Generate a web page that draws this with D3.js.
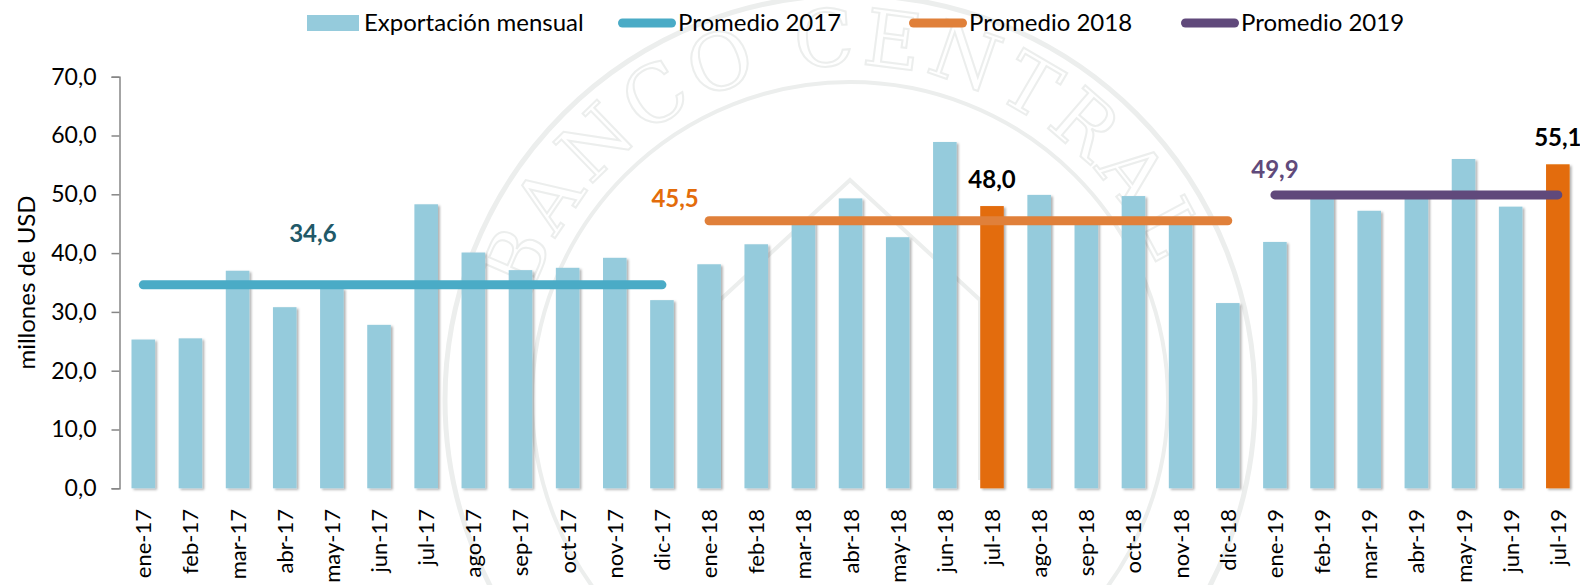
<!DOCTYPE html>
<html>
<head>
<meta charset="utf-8">
<script src="https://cdn.jsdelivr.net/npm/d3@7"></script>
<style>
  body { margin: 0; background: #fff; }
  svg { display: block; font-family: Lato, "Open Sans", sans-serif; }
</style>
</head>
<body>
<svg id="chart" width="1580" height="585"></svg>
<script>
// monthly exports, millions of USD
const categories = ['ene-17','feb-17','mar-17','abr-17','may-17','jun-17','jul-17','ago-17','sep-17','oct-17','nov-17','dic-17',
                    'ene-18','feb-18','mar-18','abr-18','may-18','jun-18','jul-18','ago-18','sep-18','oct-18','nov-18','dic-18',
                    'ene-19','feb-19','mar-19','abr-19','may-19','jun-19','jul-19'];
const exportValues = [25.3, 25.5, 37.0, 30.8, 34.0, 27.8, 48.3, 40.1, 37.1, 37.5, 39.2, 32.0,
                      38.1, 41.5, 45.5, 49.3, 42.7, 58.9, 48.0, 49.9, 45.5, 49.7, 45.5, 31.5,
                      41.9, 50.3, 47.2, 50.3, 56.0, 47.9, 55.1];
const highlighted = ['jul-18', 'jul-19'];

const averageNames = ['Promedio 2017', 'Promedio 2018', 'Promedio 2019'];
const averageValues = [34.6, 45.5, 49.9];
const averageFrom = ['ene-17', 'ene-18', 'ene-19'];
const averageTo = ['dic-17', 'dic-18', 'jul-19'];

const yTicks = [0, 10, 20, 30, 40, 50, 60, 70];

const colBar = '#95cbdc', colHi = '#e36c0a';
const colAvg = ['#4aabc6', '#e0803a', '#60497b'];
const colAvgLabel = ['#215968', '#e36c0a', '#604a7b'];

const svg = d3.select('#chart');
const defs = svg.append('defs');

const x = d3.scaleBand().domain(categories).range([119.7, 1581.4])
            .paddingInner(0.5).paddingOuter(0.25);
const y = d3.scaleLinear().domain([0, 70]).range([488.3, 76.7]);

const fmt = d => d3.format('.1f')(d).replace('.', ',');

// faint watermark seal in the background
const wm = svg.append('g').attr('fill', 'none').attr('stroke', '#eceeed');
wm.append('circle').attr('cx', 850).attr('cy', 400).attr('r', 405).attr('stroke-width', 5);
wm.append('circle').attr('cx', 850).attr('cy', 400).attr('r', 318).attr('stroke-width', 4);
const arc = d3.path();
arc.arc(850, 400, 335, Math.PI * 1.1, Math.PI * 1.95);
defs.append('path').attr('id', 'wmArc').attr('d', arc.toString());
wm.append('text')
  .attr('font-family', '"DejaVu Serif", serif')
  .attr('font-size', 78)
  .attr('stroke-width', 2)
  .attr('letter-spacing', 6)
  .append('textPath').attr('href', '#wmArc').text('BANCO CENTRAL');
wm.append('path')
  .attr('stroke-width', 4)
  .attr('d', 'M720,480 L720,300 L850,180 L980,300 L980,480 M760,480 L760,320 M800,480 L800,300 M850,480 L850,270 M900,480 L900,300 M940,480 L940,320');

const shadow = defs.append('filter').attr('id', 'shadow')
  .attr('x', '-20%').attr('y', '-5%').attr('width', '150%').attr('height', '115%');
shadow.append('feDropShadow').attr('dx', 2).attr('dy', 1.5)
  .attr('stdDeviation', 1.3).attr('flood-color', '#000').attr('flood-opacity', 0.3);

// y axis
const yAxis = svg.append('g').attr('transform', 'translate(119.5,0)')
  .call(d3.axisLeft(y).tickValues(yTicks).tickFormat(fmt).tickSize(8).tickPadding(15));
yAxis.select('.domain').attr('stroke', '#868686').attr('stroke-width', 1.5);
yAxis.selectAll('.tick line').attr('stroke', '#868686').attr('stroke-width', 1.5);
yAxis.selectAll('.tick text').attr('font-size', 23).attr('fill', '#000')
  .attr('font-family', 'Lato, sans-serif');

svg.append('text')
  .attr('transform', `translate(35,${(y(0) + y(70)) / 2}) rotate(-90)`)
  .attr('text-anchor', 'middle')
  .attr('font-size', 24)
  .text('millones de USD');

// bars
svg.append('g').attr('filter', 'url(#shadow)')
  .selectAll('rect')
  .data(categories)
  .join('rect')
  .attr('x', d => x(d))
  .attr('width', x.bandwidth())
  .attr('y', (d, i) => y(exportValues[i]))
  .attr('height', (d, i) => y(0) - y(exportValues[i]))
  .attr('fill', d => highlighted.includes(d) ? colHi : colBar);

// x labels
svg.append('g')
  .selectAll('text')
  .data(categories)
  .join('text')
  .attr('transform', d => `translate(${x(d) + x.bandwidth() / 2 + 8},509) rotate(-90)`)
  .attr('text-anchor', 'end')
  .attr('font-size', 22)
  .text(d => d);

// average lines
const mid = c => x(c) + x.bandwidth() / 2;
svg.append('g')
  .selectAll('line')
  .data(averageValues)
  .join('line')
  .attr('x1', (d, i) => mid(averageFrom[i]))
  .attr('x2', (d, i) => mid(averageTo[i]))
  .attr('y1', d => y(d))
  .attr('y2', d => y(d))
  .attr('stroke', (d, i) => colAvg[i])
  .attr('stroke-width', 9)
  .attr('stroke-linecap', 'round');

// average labels (hand placed in the original)
const avgLabelDx = [-19, -34, 0];
const avgLabelDy = [-43, -14, -17];
svg.append('g')
  .selectAll('text')
  .data(averageValues)
  .join('text')
  .attr('x', (d, i) => mid(i === 0 ? 'may-17' : averageFrom[i]) + avgLabelDx[i])
  .attr('y', (d, i) => y(d) + avgLabelDy[i])
  .attr('text-anchor', 'middle')
  .attr('font-size', 24)
  .attr('font-weight', 'bold')
  .attr('fill', (d, i) => colAvgLabel[i])
  .text(fmt);

// highlighted bar labels
svg.append('g')
  .selectAll('text')
  .data(highlighted)
  .join('text')
  .attr('x', d => mid(d))
  .attr('y', d => y(exportValues[categories.indexOf(d)]) - 18)
  .attr('text-anchor', 'middle')
  .attr('font-size', 24)
  .attr('font-weight', 'bold')
  .attr('fill', '#000')
  .text(d => fmt(exportValues[categories.indexOf(d)]));

// legend
const legend = svg.append('g').attr('font-size', 24);
legend.append('rect').attr('x', 307).attr('y', 15).attr('width', 52).attr('height', 16).attr('fill', colBar);
legend.append('text').attr('x', 364).attr('y', 23).attr('dy', '0.35em').text('Exportación mensual');
const legX = [618, 909, 1181];
averageNames.forEach((name, i) => {
  legend.append('line')
    .attr('x1', legX[i] + 4.5).attr('x2', legX[i] + 53.5)
    .attr('y1', 23).attr('y2', 23)
    .attr('stroke', colAvg[i]).attr('stroke-width', 9).attr('stroke-linecap', 'round');
  legend.append('text').attr('x', legX[i] + 60).attr('y', 23).attr('dy', '0.35em').text(name);
});
</script>
</body>
</html>
